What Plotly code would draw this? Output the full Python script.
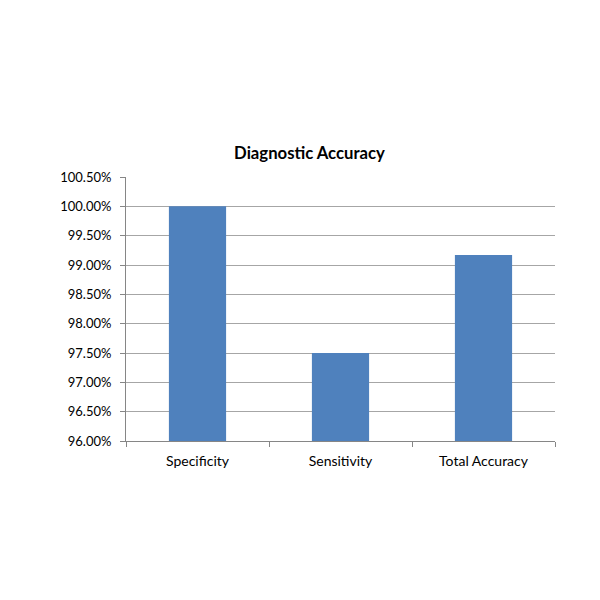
import plotly.graph_objects as go

categories = ["Specificity", "Sensitivity", "Total Accuracy"]
values = [100.0, 97.5, 99.17]
y_ticks = [96.0, 96.5, 97.0, 97.5, 98.0, 98.5, 99.0, 99.5, 100.0, 100.5]

fig = go.Figure(go.Bar(x=categories, y=values, marker=dict(color="#4F81BD", line=dict(width=0))))

fig.update_layout(
    width=600, height=600,
    paper_bgcolor="white", plot_bgcolor="white",
    margin=dict(l=118, r=53, t=169, b=167),
    bargap=0.6,
    showlegend=False,
    font=dict(family="Lato, 'Open Sans', sans-serif", size=13, color="#000000"),
    title=dict(text="<b>Diagnostic Accuracy</b>", x=301.5 / 600, xref="container", xanchor="center",
               y=1 - 145 / 600, yref="container", yanchor="middle",
               font=dict(size=16.7, color="#000000")),
)
fig.update_xaxes(
    showline=True, linecolor="#868686", linewidth=1,
    ticks="outside", tickson="boundaries", ticklen=5, tickcolor="#868686",
    showgrid=False, tickfont=dict(size=14), ticklabelstandoff=7,
)
fig.update_yaxes(
    range=[96, 100.5], tickvals=y_ticks, ticktext=[f"{v:.2f}%" for v in y_ticks],
    showline=True, linecolor="#868686", linewidth=1,
    ticks="outside", ticklen=5, tickcolor="#868686",
    showgrid=True, gridcolor="#A6A6A6", gridwidth=1, zeroline=False,
    tickfont=dict(size=13), ticklabelstandoff=6,
)

fig.write_html("out.html")
